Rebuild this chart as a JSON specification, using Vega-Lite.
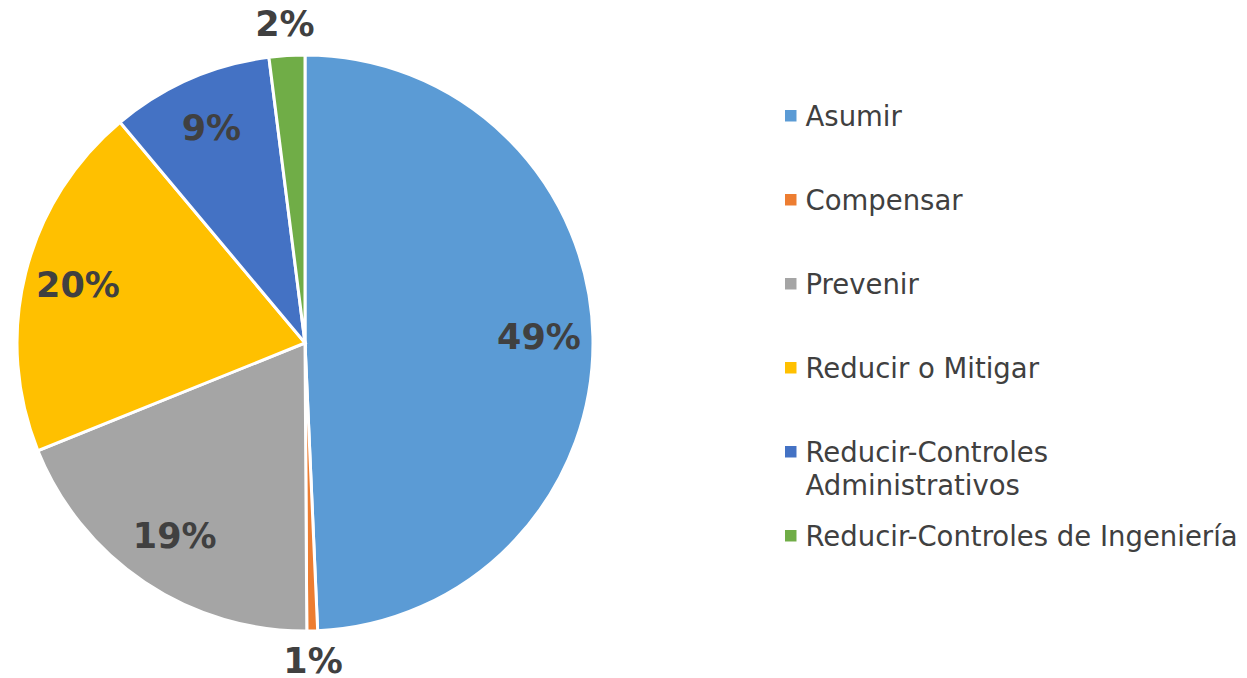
{
  "$schema": "https://vega.github.io/schema/vega-lite/v6.json",
  "width": 610,
  "height": 670,
  "autosize": {"type": "none"},
  "padding": {"left": 0, "top": 8, "right": 637, "bottom": 0},
  "background": "white",
  "config": {
    "view": {"stroke": null},
    "style": {"guide-label": {"dy": 10, "lineHeight": 33}}
  },
  "data": {
    "values": [
      {"category": "Asumir", "value": 0.493},
      {"category": "Compensar", "value": 0.006},
      {"category": "Prevenir", "value": 0.19},
      {"category": "Reducir o Mitigar", "value": 0.2},
      {"category": "Reducir-Controles Administrativos", "value": 0.091},
      {"category": "Reducir-Controles de Ingeniería", "value": 0.02}
    ]
  },
  "encoding": {
    "theta": {"field": "value", "type": "quantitative", "stack": true},
    "order": {"field": "category", "type": "nominal", "sort": "ascending"}
  },
  "layer": [
    {
      "mark": {"type": "arc", "outerRadius": 288, "stroke": "white", "strokeWidth": 3},
      "encoding": {
        "color": {
          "field": "category",
          "type": "nominal",
          "scale": {
            "domain": ["Asumir", "Compensar", "Prevenir", "Reducir o Mitigar", "Reducir-Controles Administrativos", "Reducir-Controles de Ingeniería"],
            "range": ["#5B9BD5", "#ED7D31", "#A5A5A5", "#FFC000", "#4472C4", "#70AD47"]
          },
          "legend": {
            "title": null,
            "orient": "none",
            "legendX": 777,
            "legendY": 94,
            "gridAlign": "all",
            "symbolType": "square",
            "symbolSize": 132,
            "symbolStrokeWidth": 0,
            "labelFont": "DejaVu Sans",
            "labelFontSize": 27.5,
            "labelColor": "#404040",
            "labelOffset": 1,
            "labelLimit": 600,
            "rowPadding": 21,
            "labelBaseline": "alphabetic",
            "labelExpr": "datum.label == 'Reducir-Controles Administrativos' ? ['Reducir-Controles', 'Administrativos'] : datum.label"
          }
        }
      }
    },
    {
      "mark": {"type": "text", "radius": 234, "font": "DejaVu Sans", "fontWeight": "bold", "fontSize": 35, "color": "#404040", "baseline": "middle"},
      "encoding": {
        "text": {"field": "value", "type": "quantitative", "format": ".0%", "condition": {"test": "datum.value < 0.05", "value": ""}}
      }
    },
    {
      "mark": {"type": "text", "radius": 319, "font": "DejaVu Sans", "fontWeight": "bold", "fontSize": 35, "color": "#404040", "baseline": "middle"},
      "encoding": {
        "text": {"field": "value", "type": "quantitative", "format": ".0%", "condition": {"test": "datum.value >= 0.05", "value": ""}}
      }
    }
  ]
}
